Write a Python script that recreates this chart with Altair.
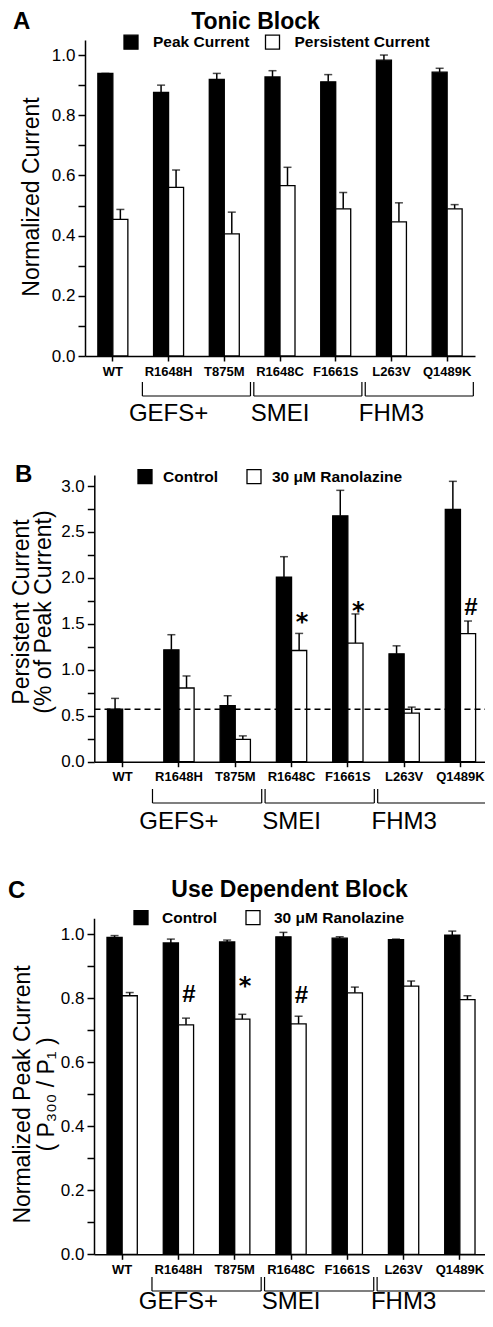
import altair as alt
import pandas as pd

# ---------------- data ----------------
MUTANTS = ["WT", "R1648H", "T875M", "R1648C", "F1661S", "L263V", "Q1489K"]

# Panel A: Tonic block
A_SERIES = ["Peak Current", "Persistent Current"]
A_PEAK = [0.939, 0.876, 0.919, 0.927, 0.911, 0.983, 0.943]
A_PEAK_SEM = [0.0, 0.024, 0.020, 0.021, 0.024, 0.017, 0.013]
A_PERS = [0.454, 0.560, 0.406, 0.566, 0.489, 0.446, 0.489]
A_PERS_SEM = [0.033, 0.058, 0.072, 0.061, 0.054, 0.063, 0.014]

# Panel B: persistent current (% of peak)
B_SERIES = ["Control", "30 μM Ranolazine"]
B_CTRL = [0.572, 1.218, 0.609, 2.009, 2.676, 1.174, 2.745]
B_CTRL_SEM = [0.117, 0.164, 0.109, 0.222, 0.277, 0.087, 0.306]
B_RANO = [None, 0.802, 0.244, 1.210, 1.291, 0.529, 1.393]
B_RANO_SEM = [None, 0.131, 0.037, 0.186, 0.317, 0.065, 0.138]
B_MARK = [None, None, None, "*", "*", None, "#"]
B_MARK_Y = [None, None, None, 1.433, 1.556, None, 1.596]
B_WT_LEVEL = 0.57

# Panel C: use dependent block
C_SERIES = ["Control", "30 μM Ranolazine"]
C_CTRL = [0.990, 0.973, 0.976, 0.992, 0.988, 0.983, 0.997]
C_CTRL_SEM = [0.006, 0.012, 0.006, 0.014, 0.004, 0.002, 0.013]
C_RANO = [0.808, 0.717, 0.735, 0.720, 0.817, 0.838, 0.796]
C_RANO_SEM = [0.010, 0.021, 0.015, 0.024, 0.018, 0.016, 0.012]
C_MARK = [None, "#", "*", "#", None, None, None]
C_MARK_Y = [None, 0.788, 0.813, 0.785, None, None, None]

GROUPS = ["GEFS+", "SMEI", "FHM3"]
GROUP_START = ["R1648H", "R1648C", "L263V"]
GROUP_END = ["T875M", "F1661S", "Q1489K"]

PANEL_LETTERS = ["A", "B", "C"]
PANEL_TITLES = ["Tonic Block", "Use Dependent Block"]


def long_df(series, v1, s1, v2, s2):
    rows = []
    for i, m in enumerate(MUTANTS):
        for name, vals, sems in ((series[0], v1, s1), (series[1], v2, s2)):
            if vals[i] is None:
                continue
            rows.append({"mutant": m, "series": name, "value": vals[i],
                         "upper": vals[i] + sems[i]})
    return pd.DataFrame(rows)


def mark_df(series_name, marks, marks_y):
    rows = [{"mutant": m, "series": series_name, "mark": k, "my": y}
            for m, k, y in zip(MUTANTS, marks, marks_y) if k is not None]
    return pd.DataFrame(rows)


dfA = long_df(A_SERIES, A_PEAK, A_PEAK_SEM, A_PERS, A_PERS_SEM)
dfB = long_df(B_SERIES, B_CTRL, B_CTRL_SEM, B_RANO, B_RANO_SEM)
dfC = long_df(C_SERIES, C_CTRL, C_CTRL_SEM, C_RANO, C_RANO_SEM)
mkB = mark_df(B_SERIES[1], B_MARK, B_MARK_Y)
mkC = mark_df(C_SERIES[1], C_MARK, C_MARK_Y)
groups_df = pd.DataFrame({"name": GROUPS, "start": GROUP_START, "end": GROUP_END})

# ---------------- layout (pixels, plot coordinates) ----------------
W, H, LEFT = 400, 1305, 77
FONT = "Liberation Sans"


def panel(df, series, marks, geo):
    """Return a flat list of layers for one panel (identical explicit scales)."""
    xs = alt.Scale(domain=MUTANTS, range=geo["xr"], paddingInner=0, paddingOuter=0)
    xo = alt.Scale(domain=series, paddingInner=0, paddingOuter=0.857)
    ys = alt.Scale(domain=geo["yd"], range=geo["yr"], nice=False, zero=True)
    k = geo["k"]
    yaxis = alt.Axis(
        orient="left", offset=geo["yoff"], values=geo["yvals"],
        labelExpr=f"(round(datum.value*{k}) % 2 == 0) ? datum.label : ''",
        tickSize=7, labelPadding=3, labelFontSize=17, grid=False,
        titleX=geo["tx"], titleY=geo["ty"], titleBaseline="alphabetic",
        titleFontSize=23, titleLineHeight=geo["tlh"], titleFontWeight="normal",
    )
    xaxis = alt.Axis(
        orient="bottom", offset=geo["yr"][0] - H, labelAngle=0,
        labelFontWeight="bold", labelFontSize=13, tickSize=5, labelPadding=4,
        labelOverlap=False, grid=False,
    )
    bars = alt.Chart(df).mark_bar(stroke="black", strokeWidth=1.3).encode(
        x=alt.X("mutant:N", scale=xs, axis=xaxis, title=None),
        xOffset=alt.XOffset("series:N", scale=xo),
        y=alt.Y("value:Q", scale=ys, axis=yaxis, title=geo["title"]),
        color=alt.Color(
            "series:N",
            scale=alt.Scale(domain=series, range=["black", "white"]),
            title=None,
            legend=alt.Legend(
                orient="none", legendX=geo["lx"], legendY=geo["ly"],
                direction="horizontal", symbolType="square", symbolSize=196,
                symbolStrokeColor="black", symbolStrokeWidth=1.3,
                labelFont=FONT, labelFontSize=15.5, labelFontWeight="bold",
                labelColor="black", labelOffset=geo["lo"],
                columnPadding=geo["cp"], padding=0,
            ),
        ),
    )
    err = alt.Chart(df).mark_rule(color="black", strokeWidth=1.5).encode(
        x=alt.X("mutant:N", scale=xs, axis=None),
        xOffset=alt.XOffset("series:N", scale=xo),
        y=alt.Y("value:Q", scale=ys, axis=None),
        y2="upper:Q",
    )
    cap = alt.Chart(df).mark_tick(color="black", thickness=1.5, size=8,
                                  orient="horizontal").encode(
        x=alt.X("mutant:N", scale=xs, axis=None),
        xOffset=alt.XOffset("series:N", scale=xo),
        y=alt.Y("upper:Q", scale=ys, axis=None),
    )
    layers = [bars, err, cap]
    yb = geo["bracket_y"]
    layers.append(alt.Chart(groups_df).mark_rule(color="black", strokeWidth=1.2).encode(
        x=alt.X("start:N", bandPosition=0.03, scale=xs, axis=None),
        x2=alt.X2("end:N", bandPosition=0.97),
        y=alt.value(yb),
    ))
    for fld, bp in (("start", 0.03), ("end", 0.97)):
        layers.append(alt.Chart(groups_df).mark_rule(color="black", strokeWidth=1.2).encode(
            x=alt.X(f"{fld}:N", bandPosition=bp, scale=xs, axis=None),
            y=alt.value(yb - 14), y2=alt.value(yb),
        ))
    layers.append(alt.Chart(groups_df).mark_text(
        font=FONT, fontSize=24, baseline="middle", align="center", color="black").encode(
        x=alt.X("start:N", bandPosition=1, scale=xs, axis=None),
        y=alt.value(geo["group_y"]),
        text="name:N",
    ))
    if marks is not None:
        for glyph, font in (("*", "DejaVu Sans"), ("#", FONT)):
            layers.append(alt.Chart(marks).transform_filter(
                alt.datum.mark == glyph).mark_text(
                font=font, fontSize=24, fontWeight="bold", baseline="alphabetic",
                align="center", color="black").encode(
                x=alt.X("mutant:N", scale=xs, axis=None),
                xOffset=alt.XOffset("series:N", scale=xo),
                y=alt.Y("my:Q", scale=ys, axis=None),
                text="mark:N",
            ))
    if geo.get("ref") is not None:
        layers.append(alt.Chart(pd.DataFrame({"lvl": [geo["ref"]]})).mark_rule(
            color="black", strokeWidth=1.5, strokeDash=[6, 4]).encode(
            y=alt.Y("lvl:Q", scale=ys, axis=None),
            x=alt.value(geo["xr"][0]), x2=alt.value(geo["xr"][1]),
        ))
    return layers


geoA = dict(xr=[0, 390], yd=[0, 1.05], yr=[348, 32], k=10,
            yvals=[round(0.1 * i, 1) for i in range(11)], yoff=0,
            tx=-47, ty=188.5, tlh=24, title="Normalized Current",
            lx=38, ly=26, lo=14, cp=12.5, bracket_y=388, group_y=406, ref=None)
geoB = dict(xr=[9.5, 403.6], yd=[0, 3.12], yr=[753.7, 467], k=4,
            yvals=[0.25 * i for i in range(13)], yoff=-9.3,
            tx=-66.3, ty=603.5, tlh=22,
            title=["Persistent Current", "(% of Peak Current)"],
            lx=52, ly=460.5, lo=10, cp=25, bracket_y=795, group_y=813.5,
            ref=B_WT_LEVEL)
geoC = dict(xr=[9, 403], yd=[0, 1.05], yr=[1246.3, 910.3], k=10,
            yvals=[round(0.1 * i, 1) for i in range(11)], yoff=-9,
            tx=-65, ty=1086, tlh=24,
            title=["Normalized Peak Current", "( P₃₀₀ / P₁ )"],
            lx=48, ly=901.5, lo=13, cp=25, bracket_y=1283, group_y=1294, ref=None)

all_layers = (panel(dfA, A_SERIES, None, geoA)
              + panel(dfB, B_SERIES, mkB, geoB)
              + panel(dfC, C_SERIES, mkC, geoC))

letter_pos = [(-72, 21), (-70, 474), (-77, 890)]
for (lx, ly), t in zip(letter_pos, PANEL_LETTERS):
    all_layers.append(alt.Chart(pd.DataFrame({"t": [t]})).mark_text(
        font=FONT, fontSize=24, fontWeight="bold", align="left",
        baseline="alphabetic", color="black").encode(
        text="t:N", x=alt.value(lx), y=alt.value(ly)))
for (tx, ty), t in zip([(170.5, 21), (204.5, 889)], PANEL_TITLES):
    all_layers.append(alt.Chart(pd.DataFrame({"t": [t]})).mark_text(
        font=FONT, fontSize=23, fontWeight="bold", align="center",
        baseline="alphabetic", color="black").encode(
        text="t:N", x=alt.value(tx), y=alt.value(ty)))

chart = alt.layer(*all_layers).resolve_scale(
    x="independent", y="independent", xOffset="independent", color="independent"
).properties(
    width=W, height=H,
    padding={"left": LEFT, "top": 0, "right": 0, "bottom": 0},
    autosize=alt.AutoSizeParams(type="none"),
    background="white",
).configure_view(stroke=None).configure_axis(
    domainColor="black", domainWidth=1.5, tickColor="black", tickWidth=1.5,
    labelColor="black", labelFont=FONT, titleFont=FONT, titleColor="black",
)

chart.save("out.html", embed_options={"renderer": "svg", "actions": False})
